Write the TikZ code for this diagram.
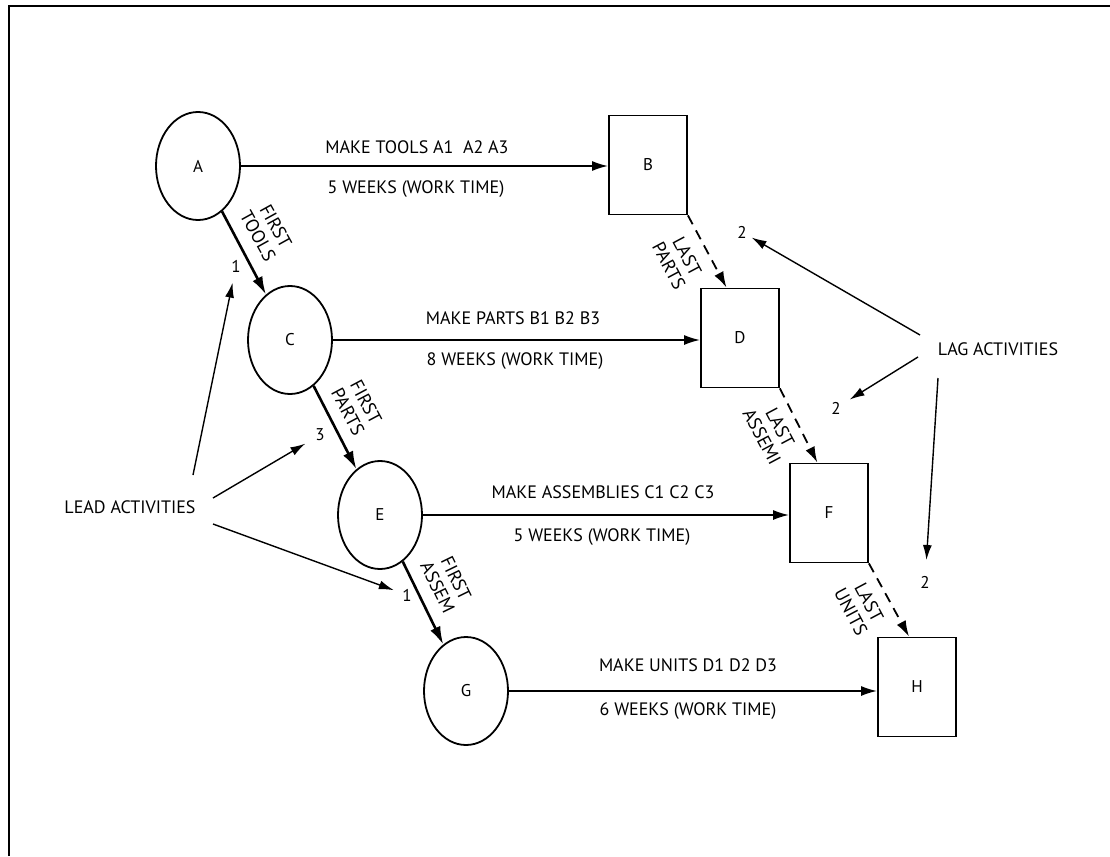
\documentclass[tikz,border=0pt]{standalone}
\usepackage{fontspec}
\setmainfont{PT Sans}
\usetikzlibrary{arrows.meta,shapes.geometric}
\begin{document}
\begin{tikzpicture}[x=1pt,y=-1pt,
  circ/.style={ellipse, draw, line width=1.8pt, minimum width=84pt, minimum height=108pt, inner sep=0pt, font=\fontsize{17}{19}\selectfont},
  sq/.style={rectangle, draw, line width=1.8pt, minimum width=78pt, minimum height=99pt, inner sep=0pt, font=\fontsize{17}{19}\selectfont},
  txt/.style={inner sep=0pt, font=\fontsize{18}{20}\selectfont},
  rot/.style={inner sep=0pt, align=center, font=\fontsize{18.5}{20.5}\selectfont},
  num/.style={inner sep=0pt, font=\fontsize{17}{19}\selectfont},
  flow/.style={line width=1.7pt, -{Latex[length=16pt,width=10pt]}},
  seq/.style={line width=2.6pt, -{Latex[length=18pt,width=11pt]}},
  lastdep/.style={line width=1.8pt, dash pattern=on 10pt off 7pt, -{Latex[length=16pt,width=10pt]}},
  pointer/.style={line width=1.4pt, -{Latex[length=15pt,width=9pt]}},
  frame/.style={line width=2.6pt}
]
\useasboundingbox (0,0) rectangle (1110,856);
\draw[frame] (9,856) -- (9,6) -- (1110,6);

% event nodes
\node[circ] (A) at (198,166) {A};
\node[circ] (C) at (290,340) {C};
\node[circ] (E) at (380,515) {E};
\node[circ] (G) at (466,691) {G};
\node[sq] (B) at (648,165) {B};
\node[sq] (D) at (740,338) {D};
\node[sq] (F) at (829,513) {F};
\node[sq] (H) at (917,687) {H};

% horizontal activities
\draw[flow] (A.east) -- (A.east -| B.west);
\draw[flow] (C.east) -- (C.east -| D.west);
\draw[flow] (E.east) -- (E.east -| F.west);
\draw[flow] (G.east) -- (G.east -| H.west);

\node[txt] (t1a) at (417,147) {MAKE TOOLS A1~ A2 A3};
\node[txt] (t1b) at (416,189) {5 WEEKS (WORK TIME)};
\node[txt] (t2a) at (513,318) {MAKE PARTS B1 B2 B3};
\node[txt] (t2b) at (515,361) {8 WEEKS (WORK TIME)};
\node[txt] (t3a) at (603,492) {MAKE ASSEMBLIES C1 C2 C3};
\node[txt] (t3b) at (602,537) {5 WEEKS (WORK TIME)};
\node[txt] (t4a) at (688,665) {MAKE UNITS D1 D2 D3};
\node[txt] (t4b) at (688,711) {6 WEEKS (WORK TIME)};

% first-item links
\draw[seq] (A) -- (C);
\draw[seq] (C) -- (E);
\draw[seq] (E) -- (G);
\node[rot, rotate=-61] (r1) at (267,231) {FIRST\\TOOLS};
\node[rot, rotate=-62] (r2) at (357,407) {FIRST\\PARTS};
\node[rot, rotate=-64] (r3) at (447,583) {FIRST\\ASSEM};

% last-item links
\draw[lastdep] (B.south east) -- (D.105);
\draw[lastdep] (D.south east) -- (F.103);
\draw[lastdep] (F.south east) -- (H.99);
\node[rot, rotate=-62] (r4) at (678,261) {LAST\\PARTS};
\node[rot, rotate=-62] (r5) at (771,432) {LAST\\ASSEMI};
\node[rot, rotate=-62] (r6) at (860,607) {LAST\\UNITS};

% lead activities
\node[txt] (lead) at (130,507) {LEAD ACTIVITIES};
\node[num] (n1) at (236,266) {1};
\node[num] (n3) at (320,435) {3};
\node[num] (n1b) at (407,595) {1};
\coordinate (leadA) at (193,475);
\coordinate (leadB) at (213,498);
\coordinate (leadC) at (213,524);
\draw[pointer, shorten >=17pt] (leadA) -- (n1.center);
\draw[pointer, shorten >=17pt] (leadB) -- (n3.center);
\draw[pointer, shorten >=14pt] (leadC) -- (n1b.center);

% lag activities
\node[txt] (lag) at (998,349) {LAG ACTIVITIES};
\node[num] (l2a) at (742,232) {2};
\node[num] (l2b) at (836,408) {2};
\node[num] (l2c) at (925,582) {2};
\coordinate (lagA) at (920,335);
\coordinate (lagB) at (918,357);
\coordinate (lagC) at (938,378);
\draw[pointer, shorten >=11pt] (lagA) -- (l2a.center);
\draw[pointer, shorten >=16pt] (lagB) -- (l2b.center);
\draw[pointer, shorten >=22pt] (lagC) -- (l2c.center);
\end{tikzpicture}
\end{document}
